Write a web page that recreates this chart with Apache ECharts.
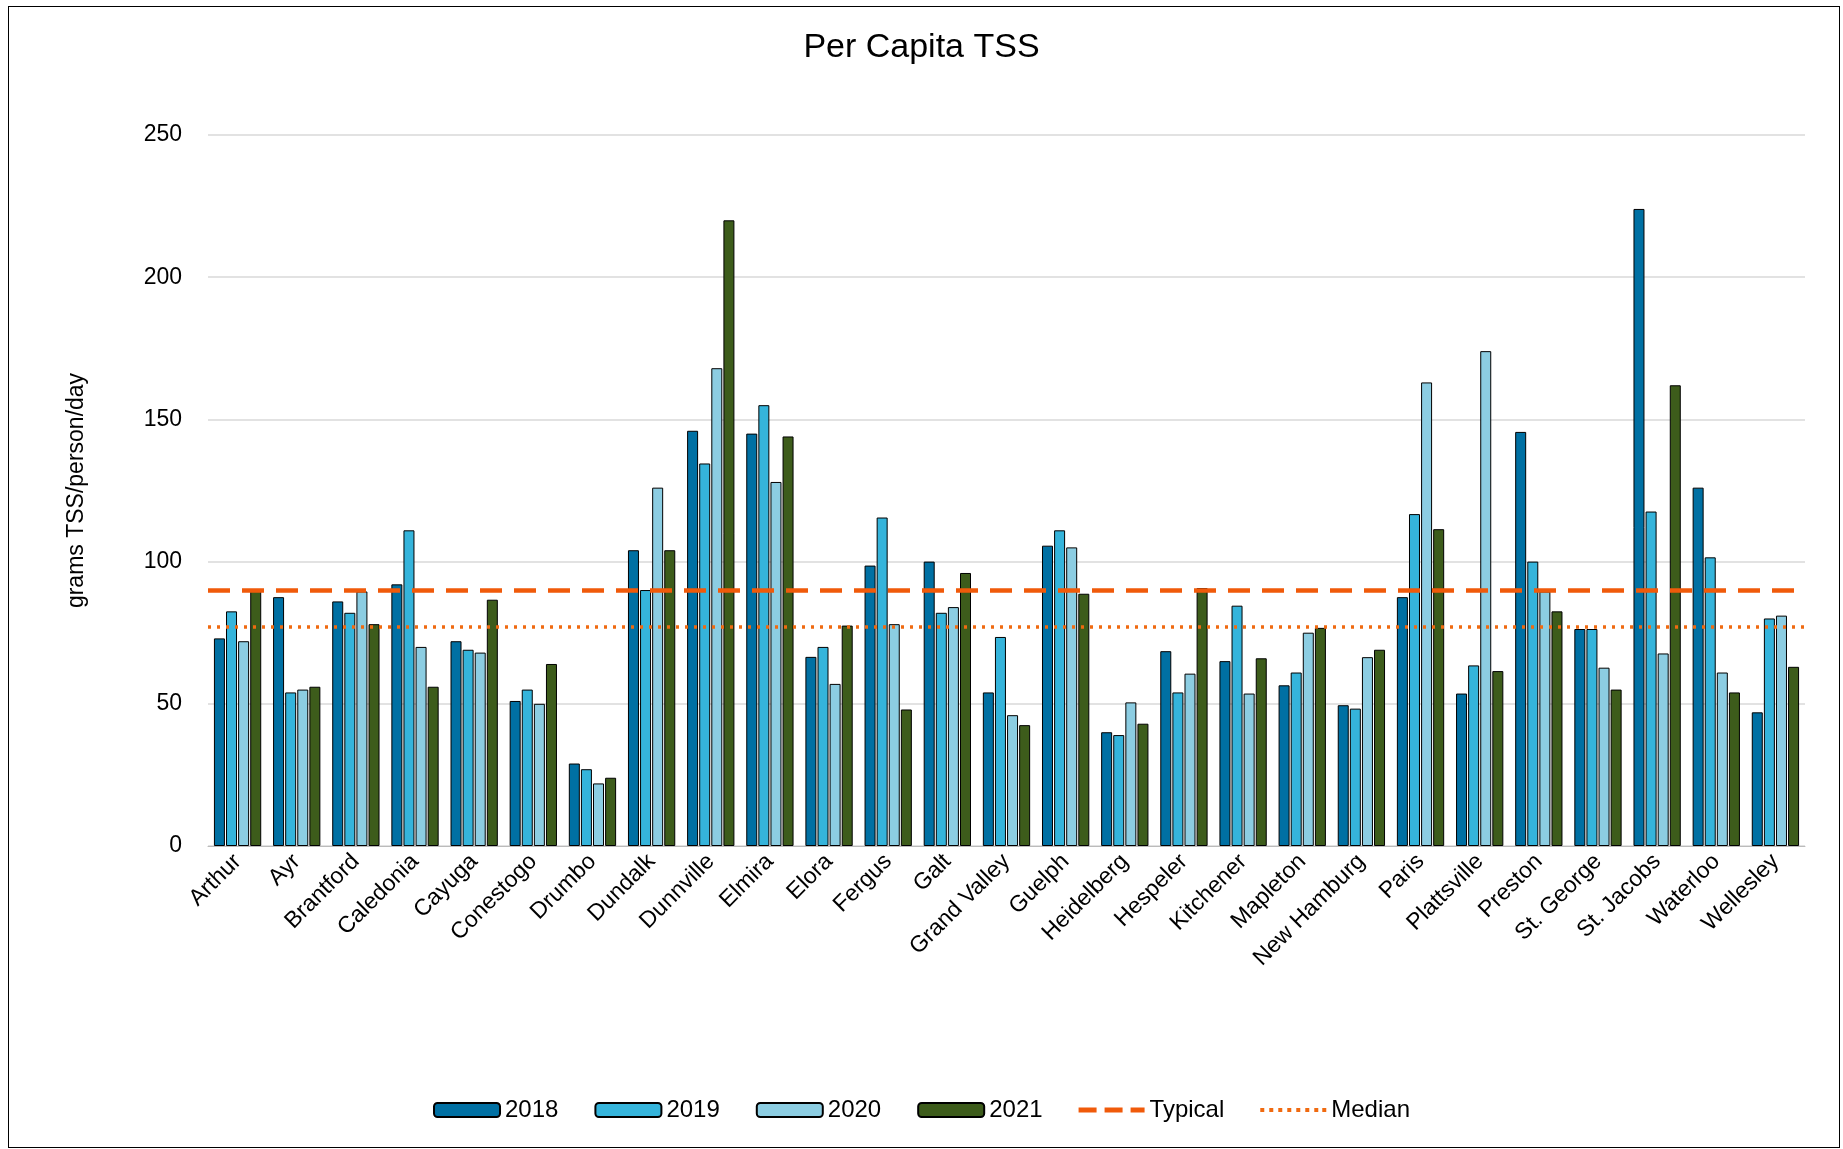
<!DOCTYPE html>
<html><head><meta charset="utf-8">
<script src="https://cdn.jsdelivr.net/npm/echarts@6/dist/echarts.min.js"></script>
<style>html,body{margin:0;background:#fff}#c{width:1843px;height:1149px}
#frame{position:absolute;left:8px;top:6px;width:1830px;height:1140px;border:1px solid #000;pointer-events:none}</style>
</head><body><div id="c"></div><div id="frame"></div>
<script>
var towns = ['Arthur','Ayr','Brantford','Caledonia','Cayuga','Conestogo','Drumbo','Dundalk','Dunnville','Elmira','Elora','Fergus','Galt','Grand Valley','Guelph','Heidelberg','Hespeler','Kitchener','Mapleton','New Hamburg','Paris','Plattsville','Preston','St. George','St. Jacobs','Waterloo','Wellesley'];
var y2018 = [73,87.5,86,92,72,51,29,104,146,145,66.5,98.6,100,54,105.6,40,68.5,65,56.5,49.5,87.5,53.6,145.6,76.3,224,126,47];
var y2019 = [82.5,54,82,111,69,55,27,90,134.5,155,70,115.5,82,73.5,111,39,54,84.5,61,48.3,116.7,63.5,100,76.3,117.6,101.5,80];
var y2020 = [72,55,89.5,70,68,50,22,126,168,128,57,78,84,46,105,50.5,60.6,53.6,75,66.4,163,174,89.5,62.7,67.7,61,81];
var y2021 = [90,56,78,56,86.6,64,24,104,220,144,77.5,48,96,42.5,88.7,43,90.7,66,76.7,69,111.4,61.5,82.5,55,162,54,63];
var typical = 90;
var median = 77;

var chart = echarts.init(document.getElementById('c'));
function bar(name, data, color) {
  return { name: name, type: 'bar', data: data, barWidth: 11, barGap: '10%',
    itemStyle: { color: color, borderColor: '#000', borderWidth: 1 } };
}
function refLine(name, value, color, type, width) {
  return { name: name, type: 'line', data: [], symbol: 'none',
    itemStyle: { color: color }, lineStyle: { color: color, type: type, width: width },
    markLine: { silent: true, symbol: 'none', label: { show: false },
      lineStyle: { color: color, type: type, width: width }, data: [{ yAxis: value }] } };
}
chart.setOption({
  animation: false,
  textStyle: { fontFamily: 'Liberation Sans, Arial, sans-serif', color: '#000' },
  title: { text: 'Per Capita TSS', left: 'center', top: 26, textStyle: { fontSize: 34, fontWeight: 'normal', color: '#000' } },
  legend: { bottom: 22, itemWidth: 66, itemHeight: 14, itemGap: 36, textStyle: { fontSize: 24, color: '#000' },
    data: ['2018','2019','2020','2021',
      { name: 'Typical', icon: 'path://M0,0h18v5h-18zM26,0h18v5h-18zM52,0h14v5h-14z', itemStyle: { color: '#f05a0a' } },
      { name: 'Median', icon: 'path://M0,0h4v4h-4zM9,0h4v4h-4zM18,0h4v4h-4zM27,0h4v4h-4zM36,0h4v4h-4zM45,0h4v4h-4zM54,0h4v4h-4zM62,0h4v4h-4z', itemStyle: { color: '#f06a10' } }] },
  grid: { left: 208, right: 38, top: 135, bottom: 303 },
  xAxis: { type: 'category', data: towns,
    axisLine: { lineStyle: { color: '#bbb' } }, axisTick: { show: false },
    axisLabel: { rotate: 45, fontSize: 23, color: '#000', interval: 0, margin: 12 } },
  yAxis: { type: 'value', min: 0, max: 250, interval: 50,
    name: 'grams TSS/person/day', nameLocation: 'middle', nameGap: 120, nameRotate: 90,
    nameTextStyle: { fontSize: 23, color: '#000' },
    axisLine: { show: false }, axisTick: { show: false },
    axisLabel: { fontSize: 23, color: '#000', margin: 26 },
    splitLine: { lineStyle: { color: '#d9d9d9', width: 1.5 } } },
  series: [
    bar('2018', y2018, '#0070a3'),
    bar('2019', y2019, '#35b4db'),
    bar('2020', y2020, '#8ccde2'),
    bar('2021', y2021, '#3d5c1b'),
    refLine('Typical', typical, '#f05a0a', [22, 12], 4.5),
    refLine('Median', median, '#f06a10', [3, 6], 3.5)
  ]
});
</script></body></html>
